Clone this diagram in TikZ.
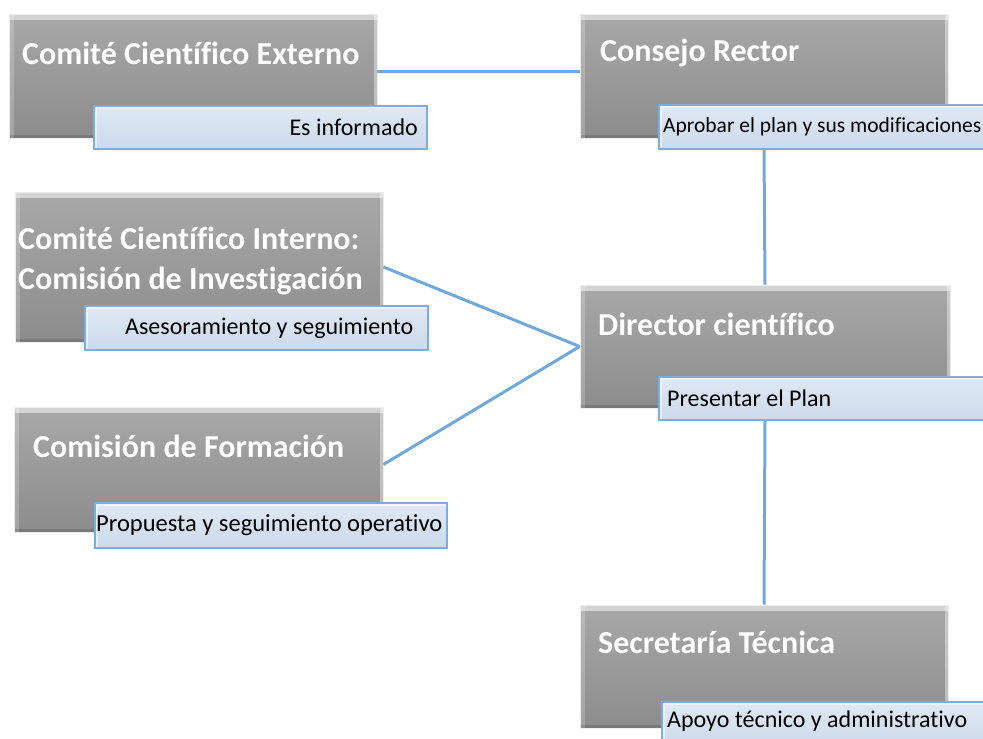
\documentclass[tikz,border=0pt]{standalone}
\usepackage{fontspec}
\setmainfont{Carlito}[Ligatures=NoCommon]
\definecolor{linkblue}{RGB}{111,168,220}
\definecolor{roleedge}{RGB}{125,172,222}
\definecolor{roletop}{RGB}{224,232,244}
\definecolor{rolebottom}{RGB}{204,218,236}
\definecolor{unittop}{RGB}{168,168,168}
\definecolor{unitbottom}{RGB}{140,140,140}
\begin{document}
\begin{tikzpicture}[x=1pt,y=-1pt]

	\tikzstyle{unit_node}=[rectangle, top color=unittop, bottom color=unitbottom, draw=white!85!gray, line width=0.8pt,
		path picture={\draw[white, opacity=.5, line width=12pt] (path picture bounding box.north west) -- (path picture bounding box.north east);
			\draw[white, opacity=.2, line width=10pt] (path picture bounding box.south west) -- (path picture bounding box.north west);
			\draw[white, opacity=.4, line width=6pt] (path picture bounding box.north east) -- (path picture bounding box.south east);
			\draw[black, opacity=.12, line width=6pt] (path picture bounding box.south west) -- (path picture bounding box.south east);}]
	\tikzstyle{role_node}=[rectangle, top color=roletop, bottom color=rolebottom, draw=roleedge, line width=2pt,
		path picture={\draw[white, opacity=.5, line width=5pt] (path picture bounding box.south west) -- (path picture bounding box.north west) -- (path picture bounding box.north east);}]
	\tikzstyle{unit_text}=[text=white, font=\fontsize{32}{40}\selectfont\bfseries, anchor=west, inner sep=0pt, align=left]
	\tikzstyle{role_text}=[text=black, font=\fontsize{24}{28}\selectfont, anchor=west, inner sep=0pt]
	\tikzstyle{link}=[draw=linkblue, line width=3pt]

	\useasboundingbox (0,0) rectangle (983,739);

	%Main boxes
	\node[unit_node, minimum width=368, minimum height=124] at (193, 76) (external) {};
	\node[unit_node, minimum width=368, minimum height=124] at (764, 76) (council) {};
	\node[unit_node, minimum width=368, minimum height=150] at (199, 267) (internal) {};
	\node[unit_node, minimum width=369, minimum height=125] at (198.5, 469.5) (training) {};
	\node[unit_node, minimum width=370, minimum height=123] at (765, 346.5) (director) {};
	\node[unit_node, minimum width=368, minimum height=123] at (764, 666.5) (secretariat) {};

	% Titles
	\node[unit_text] at (22, 53) (external_title) {Comité Científico Externo};
	\node[unit_text] at (600, 53) (council_title) {Consejo Rector};
	\node[unit_text] at (18, 261) (internal_title) {Comité Científico Interno:\\Comisión de Investigación};
	\node[unit_text] at (33, 446) (training_title) {Comisión de Formación};
	\node[unit_text] at (598, 324) (director_title) {Director científico};
	\node[unit_text] at (598, 642) (secretariat_title) {Secretaría Técnica};

	% Role boxes
	\node[role_node, minimum width=333, minimum height=43] at (260.5, 127) (external_role) {};
	\node[role_node, minimum width=334, minimum height=44] at (826, 127) (council_role) {};
	\node[role_node, minimum width=343, minimum height=44] at (256.5, 328) (internal_role) {};
	\node[role_node, minimum width=352, minimum height=45] at (271, 525.5) (training_role) {};
	\node[role_node, minimum width=334, minimum height=43] at (826, 398.5) (director_role) {};
	\node[role_node, minimum width=331, minimum height=46] at (827.5, 725) (secretariat_role) {};

	% Role texts
	\node[role_text, anchor=east] at (418, 127) {Es informado};
	\node[role_text, font=\fontsize{21.5}{26}\selectfont] at (663, 127) {Aprobar el plan y sus modificaciones};
	\node[role_text] at (125, 328) {Asesoramiento y seguimiento};
	\node[role_text, font=\fontsize{24.5}{28}\selectfont] at (96, 525) {Propuesta y seguimiento operativo};
	\node[role_text] at (667, 398) {Presentar el Plan};
	\node[role_text] at (667, 721) {Apoyo técnico y administrativo};

	% Connections
	\draw[link] ([yshift=5pt]external.east) -- ([yshift=5pt]council.west);
	\draw[link] (council.south |- council_role.south) -- (director.north);
	\draw[link] (internal.east) -- (director.west);
	\draw[link] ([yshift=5pt]training.east) -- (director.west);
	\draw[link] (director.south |- director_role.south) -- (secretariat.north);

\end{tikzpicture}
\end{document}
